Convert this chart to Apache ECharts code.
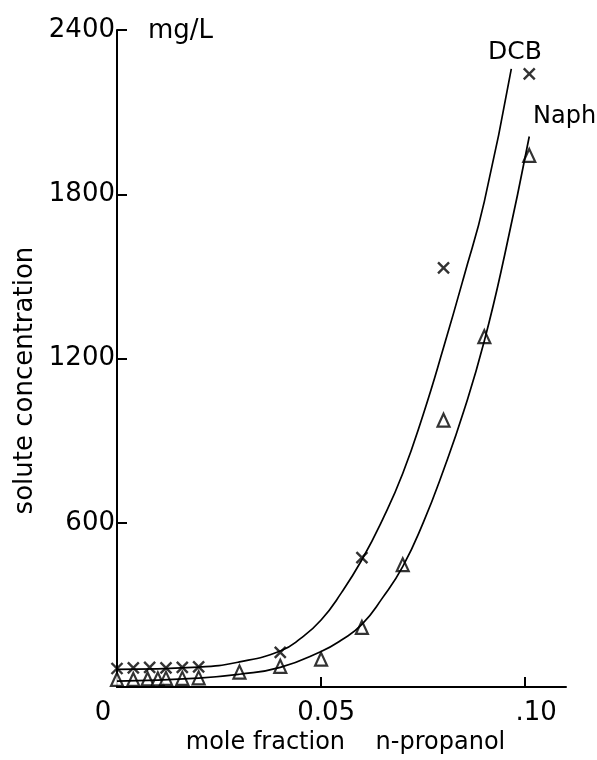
<!DOCTYPE html>
<html>
<head>
<meta charset="utf-8">
<script src="https://cdn.jsdelivr.net/npm/echarts@6/dist/echarts.min.js"></script>
<style>
  html, body { margin: 0; padding: 0; background: #fff; }
  #container { width: 597px; height: 760px; }
</style>
</head>
<body>
<div id="container"></div>
<script>
// measured points (mole fraction, mg/L)
var dcbX = [0, 0.004, 0.008, 0.012, 0.016, 0.020, 0.040, 0.060, 0.080, 0.101];
var dcbY = [68, 70, 72, 70, 72, 74, 127, 473, 1531, 2240];
var naphX = [0, 0.004, 0.0075, 0.010, 0.012, 0.016, 0.020, 0.030, 0.040, 0.050, 0.060, 0.070, 0.080, 0.090, 0.101];
var naphY = [28, 28, 30, 30, 32, 32, 34, 55, 76, 102, 218, 447, 975, 1280, 1942];

// fitted curves
var dcbFitX = [0, 0.02, 0.03, 0.04, 0.045, 0.05, 0.055, 0.06, 0.065, 0.07, 0.075, 0.08, 0.085, 0.09, 0.0966];
var dcbFitY = [65, 73, 92, 132, 178, 245, 345, 465, 610, 780, 995, 1240, 1500, 1774, 2258];
var naphFitX = [0, 0.02, 0.03, 0.04, 0.05, 0.055, 0.06, 0.065, 0.07, 0.075, 0.08, 0.085, 0.09, 0.095, 0.101];
var naphFitY = [22, 33, 47, 72, 130, 172, 229, 325, 440, 600, 793, 1010, 1265, 1580, 2011];

// axis ticks
var xTickValues = [0, 0.05, 0.10];
var xTickLabels = ['0', '0.05', '.10'];
var xTickStyles = ['z', 'm', 'r'];
var yTickValues = [600, 1200, 1800, 2400];

function pairs(xs, ys) {
    var out = [];
    for (var i = 0; i < xs.length; i++) {
        out.push([xs[i], ys[i]]);
    }
    return out;
}

var FONT = 'DejaVu Sans';
var dom = document.getElementById('container');
var myChart = echarts.init(dom);

var option = {
    backgroundColor: '#fff',
    animation: false,
    title: {
        text: 'mg/L',
        left: 143,
        top: 13,
        textStyle: { fontFamily: FONT, fontWeight: 'normal', fontSize: 26, color: '#000' }
    },
    grid: {
        left: 117,
        top: 30,
        width: 449,
        height: 658
    },
    xAxis: {
        type: 'value',
        min: 0,
        max: 0.11,
        interval: 0.05,
        name: 'mole fraction    n-propanol',
        nameLocation: 'middle',
        nameGap: 42,
        nameTextStyle: { fontFamily: FONT, fontSize: 24, color: '#000', padding: [0, 0, 0, 8] },
        splitLine: { show: false },
        axisLine: { lineStyle: { color: '#000', width: 2 } },
        axisTick: {
            inside: true,
            length: 10,
            customValues: [0.05, 0.10],
            lineStyle: { color: '#000', width: 2 }
        },
        axisLabel: {
            customValues: xTickValues,
            margin: 13,
            color: '#000',
            formatter: function (v) {
                for (var i = 0; i < xTickValues.length; i++) {
                    if (Math.abs(v - xTickValues[i]) < 1e-9) {
                        return '{' + xTickStyles[i] + '|' + xTickLabels[i] + '}';
                    }
                }
                return '';
            },
            rich: {
                z: { fontFamily: FONT, fontSize: 26, color: '#000', padding: [0, 28, 0, 0] },
                m: { fontFamily: FONT, fontSize: 26, color: '#000', padding: [0, 0, 0, 10] },
                r: { fontFamily: FONT, fontSize: 26, color: '#000', padding: [0, 0, 0, 22] }
            }
        }
    },
    yAxis: {
        type: 'value',
        min: 0,
        max: 2400,
        interval: 600,
        name: 'solute concentration',
        nameLocation: 'middle',
        nameGap: 78,
        nameTextStyle: { fontFamily: FONT, fontSize: 26, color: '#000', padding: [0, 44, 0, 0] },
        splitLine: { show: false },
        axisLine: { lineStyle: { color: '#000', width: 2 } },
        axisTick: {
            inside: true,
            length: 10,
            customValues: yTickValues,
            lineStyle: { color: '#000', width: 2 }
        },
        axisLabel: {
            customValues: yTickValues,
            margin: 2,
            fontFamily: FONT,
            fontSize: 26,
            color: '#000',
            formatter: function (v) { return String(v); }
        }
    },
    graphic: [
        {
            type: 'text',
            left: 488,
            top: 40,
            style: { text: 'DCB', fontFamily: FONT, fontSize: 25, fill: '#000' }
        },
        {
            type: 'text',
            left: 533,
            top: 105,
            style: { text: 'Naph', fontFamily: FONT, fontSize: 24, fill: '#000' }
        }
    ],
    series: [
        {
            name: 'DCB fit',
            type: 'line',
            data: pairs(dcbFitX, dcbFitY),
            smooth: 0.5,
            showSymbol: false,
            lineStyle: { color: '#000', width: 1.7 }
        },
        {
            name: 'Naph fit',
            type: 'line',
            data: pairs(naphFitX, naphFitY),
            smooth: 0.5,
            showSymbol: false,
            lineStyle: { color: '#000', width: 1.7 }
        },
        {
            name: 'DCB',
            type: 'scatter',
            data: pairs(dcbX, dcbY),
            symbol: 'path://M0,0L10,10M10,0L0,10',
            symbolSize: 11,
            itemStyle: { color: 'none', borderColor: '#000', borderWidth: 2.4 }
        },
        {
            name: 'Naph',
            type: 'scatter',
            data: pairs(naphX, naphY),
            symbol: 'triangle',
            symbolSize: [12, 13],
            itemStyle: { color: '#fff', borderColor: '#000', borderWidth: 2.2 }
        }
    ]
};

if (option && typeof option === 'object') {
    myChart.setOption(option, true);
}
</script>
</body>
</html>
